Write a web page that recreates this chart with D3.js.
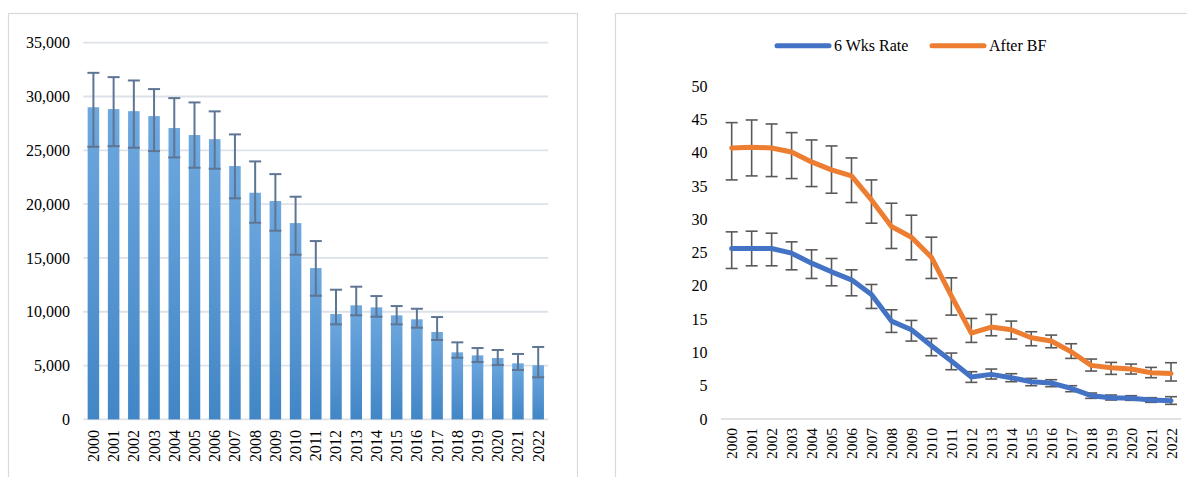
<!DOCTYPE html>
<html>
<head>
<meta charset="utf-8">
<script src="https://cdn.jsdelivr.net/npm/d3@7"></script>
<style>
  html, body { margin: 0; padding: 0; background: #fff; }
  svg { display: block; }
  text { font-family: "Liberation Serif", "Times New Roman", serif; fill: #000; }
</style>
</head>
<body>
<svg id="chart" width="1187" height="477"></svg>
<script>
// Years shared by both panels
const years = ["2000","2001","2002","2003","2004","2005","2006","2007","2008","2009","2010",
  "2011","2012","2013","2014","2015","2016","2017","2018","2019","2020","2021","2022"];

// Left panel: annual counts with lower / upper error limits
const counts     = [29000, 28830, 28640, 28180, 27070, 26420, 26040, 23540, 21060, 20290, 18240,
  14060, 9790, 10600, 10410, 9670, 9300, 8120, 6230, 5950, 5700, 5210, 5030];
const countsHigh = [32200, 31800, 31490, 30690, 29850, 29450, 28620, 26480, 23970, 22790, 20690,
  16570, 12050, 12330, 11460, 10530, 10280, 9510, 7160, 6630, 6450, 6080, 6730];
const countsLow  = [25330, 25390, 25240, 24930, 24340, 23380, 23290, 20540, 18270, 17530, 15300,
  11490, 8830, 9670, 9540, 8830, 8520, 7380, 5730, 5330, 5050, 4590, 3910];
const countTicks = [0, 5000, 10000, 15000, 20000, 25000, 30000, 35000];

// Right panel: two rate series (%) with error limits
const wksRate     = [25.6, 25.6, 25.6, 24.9, 23.4, 22.1, 20.9, 18.7, 14.7, 13.4, 11.0,
  8.7, 6.3, 6.7, 6.2, 5.6, 5.4, 4.6, 3.5, 3.2, 3.1, 2.85, 2.75];
const wksHigh     = [28.1, 28.2, 27.9, 26.6, 25.4, 24.1, 22.4, 20.2, 16.4, 14.8, 12.1,
  9.9, 7.1, 7.5, 6.8, 6.1, 5.9, 5.0, 3.9, 3.6, 3.5, 3.2, 3.35];
const wksLow      = [22.6, 23.0, 23.0, 22.4, 21.1, 20.0, 18.5, 16.6, 13.0, 11.7, 9.5,
  7.4, 5.5, 6.0, 5.6, 5.0, 4.85, 4.1, 3.1, 2.85, 2.8, 2.5, 2.2];
const afterBF     = [40.7, 40.8, 40.7, 40.1, 38.6, 37.4, 36.5, 32.9, 28.9, 27.3, 24.3,
  18.5, 12.9, 13.8, 13.4, 12.2, 11.7, 10.1, 8.05, 7.7, 7.5, 6.95, 6.85];
const afterBFHigh = [44.5, 44.9, 44.3, 43.0, 41.9, 41.0, 39.2, 35.9, 32.4, 30.6, 27.3,
  21.2, 15.1, 15.7, 14.7, 13.1, 12.6, 11.3, 9.0, 8.5, 8.25, 7.75, 8.45];
const afterBFLow  = [35.9, 36.5, 36.4, 36.1, 34.9, 33.9, 32.5, 29.4, 25.6, 23.9, 21.1,
  15.6, 11.5, 12.5, 12.0, 11.0, 10.7, 9.1, 7.2, 6.7, 6.75, 6.2, 5.7];
const rateTicks = [0, 5, 10, 15, 20, 25, 30, 35, 40, 45, 50];
const seriesNames = ["6 Wks Rate", "After BF"];
const seriesColors = ["#4472C4", "#ED7D31"];

const svg = d3.select("#chart");

// Bar gradient (lighter at the top of each bar)
const defs = svg.append("defs");
const grad = defs.append("linearGradient").attr("id", "barFill")
  .attr("x1", 0).attr("y1", 0).attr("x2", 0).attr("y2", 1);
grad.append("stop").attr("offset", "0%").attr("stop-color", "#6EA8DF");
grad.append("stop").attr("offset", "100%").attr("stop-color", "#4286C6");

// ---------- Left panel: bar chart ----------
svg.append("rect").attr("x", 8.5).attr("y", 13.5).attr("width", 569).attr("height", 480)
  .attr("fill", "none").attr("stroke", "#d9d9d9").attr("stroke-width", 1.2);

const xL = d3.scaleBand().domain(years).range([83.3, 548.3]).paddingInner(0.43).paddingOuter(0.215);
const yL = d3.scaleLinear().domain([0, 35000]).range([419.4, 42.7]);

const gL = svg.append("g");
// gridlines
gL.append("g").selectAll("line").data(countTicks).join("line")
  .attr("x1", 83.3).attr("x2", 548.3)
  .attr("y1", d => yL(d)).attr("y2", d => yL(d))
  .attr("stroke", "#dde1e8").attr("stroke-width", 1.8);

// y axis labels
const axL = d3.axisLeft(yL).tickValues(countTicks).tickSize(0).tickPadding(0)
  .tickFormat(d3.format(","));
gL.append("g").attr("transform", "translate(70,0)").call(axL)
  .call(g => g.select(".domain").remove())
  .call(g => g.selectAll("text").attr("font-size", 16).attr("fill", "#000")
    .style("font-family", '"Liberation Serif", serif'));

// bars
gL.append("g").selectAll("rect").data(years).join("rect")
  .attr("x", d => xL(d)).attr("width", xL.bandwidth())
  .attr("y", (d, i) => yL(counts[i])).attr("height", (d, i) => yL(0) - yL(counts[i]))
  .attr("fill", "url(#barFill)");

// error bars
const ebL = gL.append("g").attr("stroke", "#5E7593").attr("stroke-width", 2);
years.forEach((yr, i) => {
  const cx = xL(yr) + xL.bandwidth() / 2, hw = 6;
  ebL.append("line").attr("x1", cx).attr("x2", cx).attr("y1", yL(countsHigh[i])).attr("y2", yL(countsLow[i]));
  ebL.append("line").attr("x1", cx - hw).attr("x2", cx + hw).attr("y1", yL(countsHigh[i])).attr("y2", yL(countsHigh[i]));
  ebL.append("line").attr("x1", cx - hw).attr("x2", cx + hw).attr("y1", yL(countsLow[i])).attr("y2", yL(countsLow[i]));
});

// x axis labels (rotated)
const axLx = d3.axisBottom(xL).tickSize(0).tickPadding(0);
gL.append("g").attr("transform", `translate(0,${yL(0)})`).call(axLx)
  .call(g => g.select(".domain").remove())
  .call(g => g.selectAll("text").attr("font-size", 16).attr("fill", "#000")
    .style("font-family", '"Liberation Serif", serif')
    .attr("transform", "rotate(-90)").attr("text-anchor", "end")
    .attr("x", -10.5).attr("y", 0).attr("dy", "0.34em"));

// ---------- Right panel: line chart ----------
svg.append("rect").attr("x", 615.5).attr("y", 13.5).attr("width", 600).attr("height", 480)
  .attr("fill", "none").attr("stroke", "#d9d9d9").attr("stroke-width", 1.2);

const xR = d3.scalePoint().domain(years).range([721.7, 1181]).padding(0.5);
const yR = d3.scaleLinear().domain([0, 50]).range([419, 86]);

const gR = svg.append("g");
gR.append("line").attr("x1", 721).attr("x2", 1181).attr("y1", yR(0)).attr("y2", yR(0))
  .attr("stroke", "#d9d9d9").attr("stroke-width", 1.5);

const axR = d3.axisLeft(yR).tickValues(rateTicks).tickSize(0).tickPadding(0);
gR.append("g").attr("transform", "translate(707.5,0)").call(axR)
  .call(g => g.select(".domain").remove())
  .call(g => g.selectAll("text").attr("font-size", 16).attr("fill", "#000")
    .style("font-family", '"Liberation Serif", serif'));

const axRx = d3.axisBottom(xR).tickSize(0).tickPadding(0);
gR.append("g").attr("transform", `translate(0,${yR(0)})`).call(axRx)
  .call(g => g.select(".domain").remove())
  .call(g => g.selectAll("text").attr("font-size", 15.5).attr("fill", "#000")
    .style("font-family", '"Liberation Serif", serif')
    .attr("transform", "rotate(-90)").attr("text-anchor", "end")
    .attr("x", -9).attr("y", 0).attr("dy", "0.34em"));

const seriesData = [
  { vals: wksRate, hi: wksHigh, lo: wksLow },
  { vals: afterBF, hi: afterBFHigh, lo: afterBFLow }
];

// error bars (drawn beneath the lines)
const ebR = gR.append("g").attr("stroke", "#595959").attr("stroke-width", 1.6);
seriesData.forEach(s => {
  years.forEach((yr, i) => {
    const cx = xR(yr), hw = 6;
    ebR.append("line").attr("x1", cx).attr("x2", cx).attr("y1", yR(s.hi[i])).attr("y2", yR(s.lo[i]));
    ebR.append("line").attr("x1", cx - hw).attr("x2", cx + hw).attr("y1", yR(s.hi[i])).attr("y2", yR(s.hi[i]));
    ebR.append("line").attr("x1", cx - hw).attr("x2", cx + hw).attr("y1", yR(s.lo[i])).attr("y2", yR(s.lo[i]));
  });
});

const line = d3.line().x((d, i) => xR(years[i])).y(d => yR(d));
seriesData.forEach((s, k) => {
  gR.append("path").datum(s.vals).attr("d", line)
    .attr("fill", "none").attr("stroke", seriesColors[k]).attr("stroke-width", 5)
    .attr("stroke-linejoin", "round").attr("stroke-linecap", "round");
});

// legend
const legendX = [777, 932];
seriesNames.forEach((name, k) => {
  const lg = gR.append("g").attr("transform", `translate(${legendX[k]},45.7)`);
  lg.append("line").attr("x1", 0).attr("x2", 52).attr("y1", 0).attr("y2", 0)
    .attr("stroke", seriesColors[k]).attr("stroke-width", 5).attr("stroke-linecap", "round");
  lg.append("text").attr("x", 57).attr("y", 0).attr("dy", "0.34em")
    .attr("font-size", 16).text(name);
});
</script>
</body>
</html>
